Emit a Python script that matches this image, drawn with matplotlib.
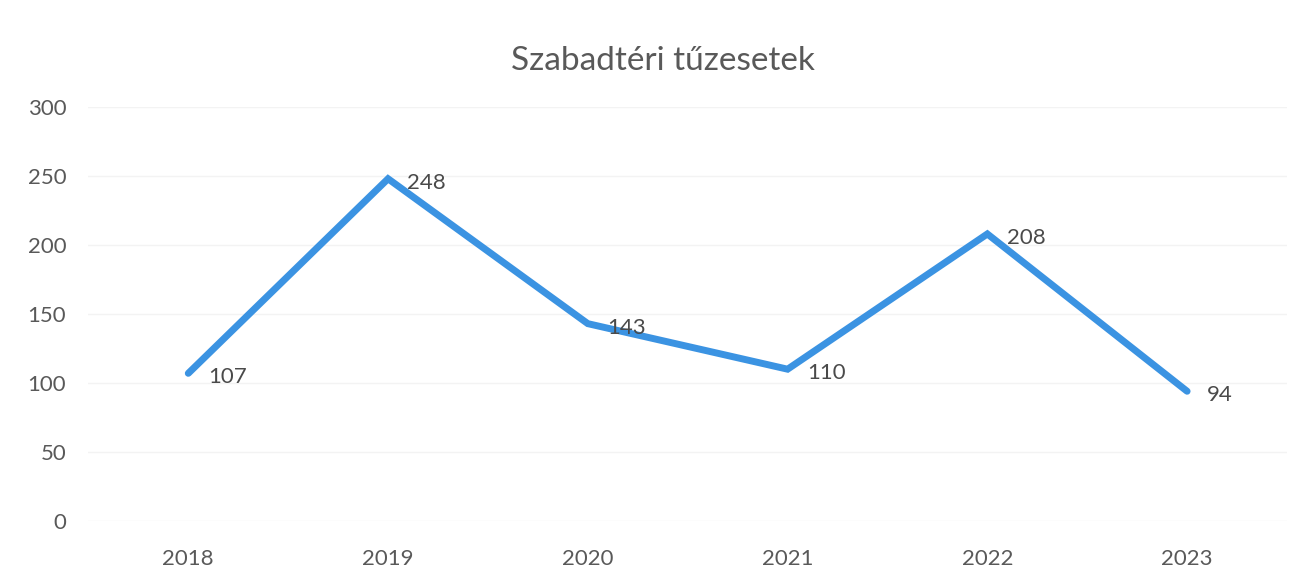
import matplotlib
matplotlib.use("Agg")
import matplotlib.pyplot as plt

years = ["2018", "2019", "2020", "2021", "2022", "2023"]
fires = [107, 248, 143, 110, 208, 94]
y_ticks = [0, 50, 100, 150, 200, 250, 300]

plt.rcParams['font.family'] = ['Lato', 'DejaVu Sans']

fig = plt.figure(figsize=(13, 5.71), dpi=100)
ax = fig.add_axes([0.068, 0.0876, 0.922, 0.725])

x = list(range(len(years)))
ax.plot(x, fires, color="#3b93e2", linewidth=5, solid_capstyle="round", solid_joinstyle="miter")

# data labels to the right of each point
for xi, v in zip(x, fires):
    ax.annotate(str(v), (xi, v), xytext=(14, -3), textcoords="offset points",
                ha="left", va="center", fontsize=16, color="#4a4a4a")

ax.set_xlim(-0.5, len(years) - 0.5)
ax.set_ylim(0, 300)
ax.set_yticks(y_ticks)
ax.set_xticks(x)
ax.set_xticklabels(years)
ax.tick_params(axis="both", length=0, labelsize=16, labelcolor="#595959")
ax.tick_params(axis="x", pad=20)
ax.tick_params(axis="y", pad=16)
ax.grid(axis="y", color="#f3f3f3", linewidth=1)
ax.set_axisbelow(True)
for s in ax.spines.values():
    s.set_visible(False)

fig.text(0.51, 0.893, "Szabadtéri tűzesetek", ha="center", va="center",
         fontsize=24, color="#595959")

fig.savefig("out.png", dpi=100)
